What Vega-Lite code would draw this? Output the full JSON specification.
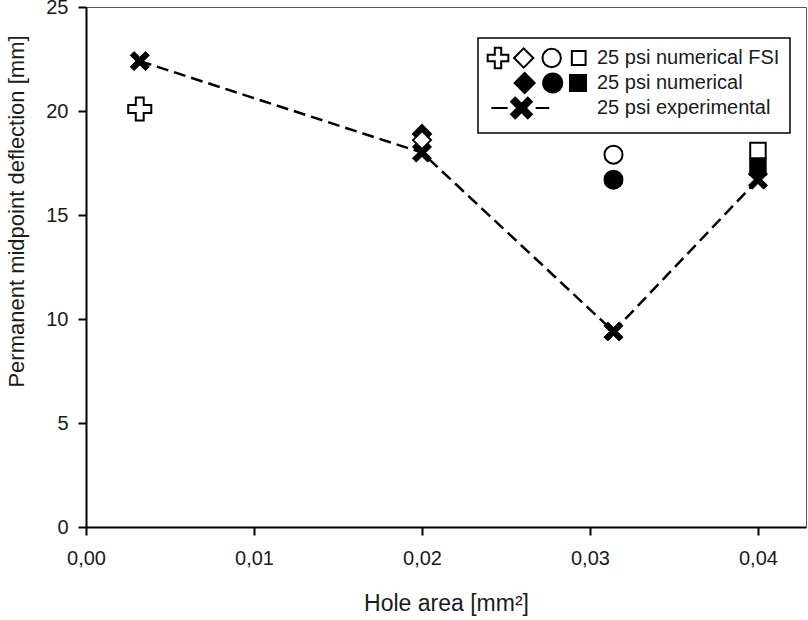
{
  "$schema": "https://vega.github.io/schema/vega-lite/v6.json",
  "width": 720,
  "height": 520,
  "autosize": {"type": "none"},
  "padding": {"left": 86, "top": 7, "right": 2, "bottom": 93},
  "background": "white",
  "config": {
    "font": "Liberation Sans",
    "view": {"stroke": "#555555", "strokeWidth": 1},
    "axis": {
      "grid": false,
      "domainColor": "black",
      "domainWidth": 2,
      "tickColor": "black",
      "tickWidth": 2,
      "tickSize": 8,
      "labelFont": "Liberation Sans",
      "labelFontSize": 20,
      "labelColor": "#1a1a1a",
      "labelFlush": false,
      "labelOverlap": false,
      "titleFont": "Liberation Sans",
      "titleFontSize": 22,
      "titleFontWeight": "normal",
      "titleColor": "#1a1a1a"
    },
    "legend": {
      "orient": "none",
      "legendX": 392,
      "legendY": 31,
      "direction": "vertical",
      "padding": 10,
      "strokeColor": "black",
      "strokeWidth": 1.5,
      "fillColor": "white",
      "symbolSize": 256,
      "symbolStrokeWidth": 2,
      "symbolStrokeColor": "black",
      "symbolOpacity": 1,
      "labelFont": "Liberation Sans",
      "labelFontSize": 20,
      "labelColor": "#1a1a1a",
      "labelOffset": 89,
      "labelLimit": 400,
      "rowPadding": -4
    }
  },
  "data": {
    "values": [
      {"series": "25 psi numerical", "hole": "H2", "area": 0.02, "deflection": 18.9},
      {"series": "25 psi numerical", "hole": "H3", "area": 0.0314, "deflection": 16.7},
      {"series": "25 psi numerical", "hole": "H4", "area": 0.04, "deflection": 17.3},
      {"series": "25 psi numerical FSI", "hole": "H1", "area": 0.0032, "deflection": 20.1},
      {"series": "25 psi numerical FSI", "hole": "H2", "area": 0.02, "deflection": 18.6},
      {"series": "25 psi numerical FSI", "hole": "H3", "area": 0.0314, "deflection": 17.9},
      {"series": "25 psi numerical FSI", "hole": "H4", "area": 0.04, "deflection": 18.1},
      {"series": "25 psi experimental", "hole": "H1", "area": 0.0032, "deflection": 22.4},
      {"series": "25 psi experimental", "hole": "H2", "area": 0.02, "deflection": 18.0},
      {"series": "25 psi experimental", "hole": "H3", "area": 0.0314, "deflection": 9.4},
      {"series": "25 psi experimental", "hole": "H4", "area": 0.04, "deflection": 16.7}
    ]
  },
  "encoding": {
    "x": {
      "field": "area",
      "type": "quantitative",
      "scale": {"domain": [0, 0.04286], "nice": false, "zero": false},
      "axis": {
        "title": "Hole area [mm²]",
        "values": [0, 0.01, 0.02, 0.03, 0.04],
        "labelExpr": "replace(format(datum.value, '.2f'), '.', ',')",
        "labelPadding": 13,
        "titleFontSize": 23,
        "titleY": 83,
        "titleBaseline": "alphabetic"
      }
    },
    "y": {
      "field": "deflection",
      "type": "quantitative",
      "scale": {"domain": [0, 25], "nice": false},
      "axis": {
        "title": "Permanent midpoint deflection [mm]",
        "values": [0, 5, 10, 15, 20, 25],
        "labelPadding": 10,
        "titleX": -70,
        "titleY": 204,
        "titleAngle": 270,
        "titleAlign": "center",
        "titleBaseline": "middle"
      }
    }
  },
  "layer": [
    {
      "transform": [{"filter": "datum.series == '25 psi experimental'"}],
      "mark": {"type": "line", "color": "black", "strokeWidth": 2.5, "strokeDash": [12, 6]},
      "encoding": {}
    },
    {
      "transform": [{"filter": "datum.series != '25 psi experimental' && datum.hole == 'H1'"}],
      "mark": {"type": "point", "filled": true, "stroke": "black", "strokeWidth": 2, "size": 324, "opacity": 1,
               "shape": "M-0.44,-1.28L0.44,-1.28L0.44,-0.44L1.28,-0.44L1.28,0.44L0.44,0.44L0.44,1.28L-0.44,1.28L-0.44,0.44L-1.28,0.44L-1.28,-0.44L-0.44,-0.44Z"},
      "encoding": {"fill": {"field": "series", "type": "nominal", "legend": {"title": null}}}
    },
    {
      "transform": [{"filter": "datum.series != '25 psi experimental' && datum.hole == 'H2'"}],
      "mark": {"type": "point", "filled": true, "stroke": "black", "strokeWidth": 2, "size": 324, "opacity": 1, "shape": "diamond"},
      "encoding": {"fill": {"field": "series", "type": "nominal", "legend": {"title": null}}}
    },
    {
      "transform": [{"filter": "datum.series != '25 psi experimental' && datum.hole == 'H3'"}],
      "mark": {"type": "point", "filled": true, "stroke": "black", "strokeWidth": 2, "size": 324, "opacity": 1, "shape": "circle"},
      "encoding": {"fill": {"field": "series", "type": "nominal", "legend": {"title": null}}}
    },
    {
      "transform": [{"filter": "datum.series != '25 psi experimental' && datum.hole == 'H4'"}],
      "mark": {"type": "point", "filled": true, "stroke": "black", "strokeWidth": 2, "size": 324, "opacity": 1,
               "shape": "M-0.86,-0.86L0.86,-0.86L0.86,0.86L-0.86,0.86Z"},
      "encoding": {"fill": {"field": "series", "type": "nominal", "legend": {"title": null}}}
    },
    {
      "transform": [{"filter": "datum.series == '25 psi experimental'"}],
      "mark": {
        "type": "point",
        "filled": true,
        "color": "black",
        "stroke": "black",
        "strokeWidth": 1,
        "size": 361,
        "opacity": 1,
        "shape": "M-1,-0.6L-0.6,-1L0,-0.4L0.6,-1L1,-0.6L0.4,0L1,0.6L0.6,1L0,0.4L-0.6,1L-1,0.6L-0.4,0Z"
      },
      "encoding": {}
    },
    {
      "transform": [{"filter": "datum.series == ''"}],
      "mark": {"type": "point", "filled": true, "strokeWidth": 2, "opacity": 1},
      "encoding": {
        "shape": {
          "field": "series",
          "type": "nominal",
          "scale": {
            "domain": ["25 psi numerical FSI", "25 psi numerical", "25 psi experimental"],
            "range": [
              "M-0.4,-1.29L0.4,-1.29L0.4,-0.4L1.29,-0.4L1.29,0.4L0.4,0.4L0.4,1.29L-0.4,1.29L-0.4,0.4L-1.29,0.4L-1.29,-0.4L-0.4,-0.4Z M2.01,0L3.21,-1.2L4.41,0L3.21,1.2Z M5.56,0A1.15,1.15,0,1,0,7.86,0A1.15,1.15,0,1,0,5.56,0Z M9.23,-0.86L10.95,-0.86L10.95,0.86L9.23,0.86Z",
              "M2.08,0L3.33,-1.25L4.58,0L3.33,1.25Z M5.64,0A1.2,1.2,0,1,0,8.04,0A1.2,1.2,0,1,0,5.64,0Z M9,-1L11,-1L11,1L9,1Z",
              "M-0.83,0L1.2,0 M1.64,-0.78L2.16,-1.3L2.94,-0.52L3.72,-1.3L4.24,-0.78L3.46,0L4.24,0.78L3.72,1.3L2.94,0.52L2.16,1.3L1.64,0.78L2.42,0Z M4.7,0L6.4,0"
            ]
          },
          "legend": {"title": null}
        },
        "fill": {
          "field": "series",
          "type": "nominal",
          "scale": {
            "domain": ["25 psi numerical FSI", "25 psi numerical", "25 psi experimental"],
            "range": ["white", "black", "black"]
          },
          "legend": {"title": null}
        },
        "stroke": {
          "field": "series",
          "type": "nominal",
          "scale": {
            "domain": ["25 psi numerical FSI", "25 psi numerical", "25 psi experimental"],
            "range": ["black", "black", "black"]
          },
          "legend": {"title": null}
        }
      }
    }
  ]
}
